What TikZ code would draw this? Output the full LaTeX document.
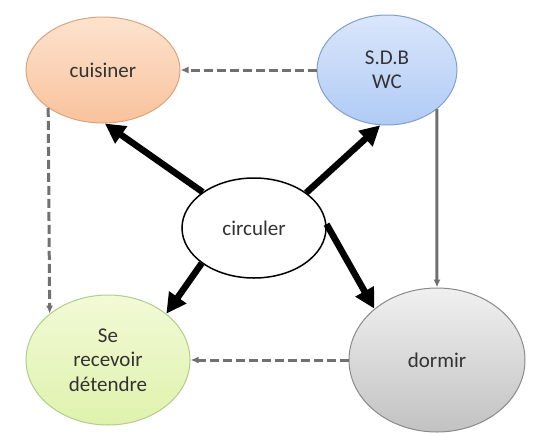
\documentclass[tikz,border=0pt]{standalone}
\usepackage{fontspec}
\setmainfont{Carlito}
\usepackage{xcolor}
\usetikzlibrary{arrows.meta,shapes.geometric}

\definecolor{textgray}{HTML}{333333}
\definecolor{arrowgray}{HTML}{707070}
\definecolor{cuisinetop}{HTML}{FCE3CE}
\definecolor{cuisinebot}{HTML}{F9C29C}
\definecolor{cuisineline}{HTML}{D9A47E}
\definecolor{sdbtop}{HTML}{DAE6FB}
\definecolor{sdbbot}{HTML}{B0CBF5}
\definecolor{sdbline}{HTML}{7F9FD3}
\definecolor{recevtop}{HTML}{F2FAD6}
\definecolor{recevbot}{HTML}{DFF2AC}
\definecolor{recevline}{HTML}{B2CC8A}
\definecolor{dormtop}{HTML}{F0F0F0}
\definecolor{dormbot}{HTML}{C2C2C2}
\definecolor{dormline}{HTML}{8A8A8A}

\begin{document}
\begin{tikzpicture}[
    x=1pt, y=-1pt,
    room/.style={ellipse, draw=#1line, top color=#1top, bottom color=#1bot,
        line width=1pt, inner sep=0pt,
        align=center, text=textgray, font=\fontsize{21}{24.5}\selectfont},
    bigarrow/.style={-{Triangle[length=20pt,width=20pt]}, line width=6.5pt},
    linkarrow/.style={-{Latex[length=8pt,width=7pt]}, line width=3pt, draw=arrowgray},
    dashedarrow/.style={linkarrow, dash pattern=on 9pt off 4pt}
]

\useasboundingbox (0,0) rectangle (539,432);

% the rooms
\node[room=cuisine, minimum width=154pt, minimum height=106pt] (cuisiner) at (103,70) {cuisiner};
\node[room=sdb, minimum width=140pt, minimum height=110pt] (sdb) at (387,70) {S.D.B\\WC};
\node[room=recev, minimum width=164pt, minimum height=130pt] (recevoir) at (108,360) {Se\\recevoir\\détendre};
\node[room=dorm, minimum width=176pt, minimum height=144pt] (dormir) at (437,360) {dormir};

% centre
\node[ellipse, draw=black, line width=1.5pt, fill=white, inner sep=0pt,
    text=textgray, font=\fontsize{21}{24.5}\selectfont,
    minimum width=144pt, minimum height=100pt] (circ) at (254,228) {circuler};

% thick arrows out of circuler
\foreach \a/\b in {circ.145/cuisiner.-88, circ.34/sdb.-97,
    circ.214/recevoir.north east, circ.3/dormir.north west}{
    \draw[bigarrow] (\a) -- (\b);
}

% links between rooms
\draw[dashedarrow] (sdb.west) -- (cuisiner.east);
\draw[dashedarrow] (cuisiner.south west) -- (recevoir.north west);
\draw[dashedarrow] (dormir.west) -- (recevoir.east);
\draw[linkarrow] (sdb.south east) -- (dormir.north);

\end{tikzpicture}
\end{document}
